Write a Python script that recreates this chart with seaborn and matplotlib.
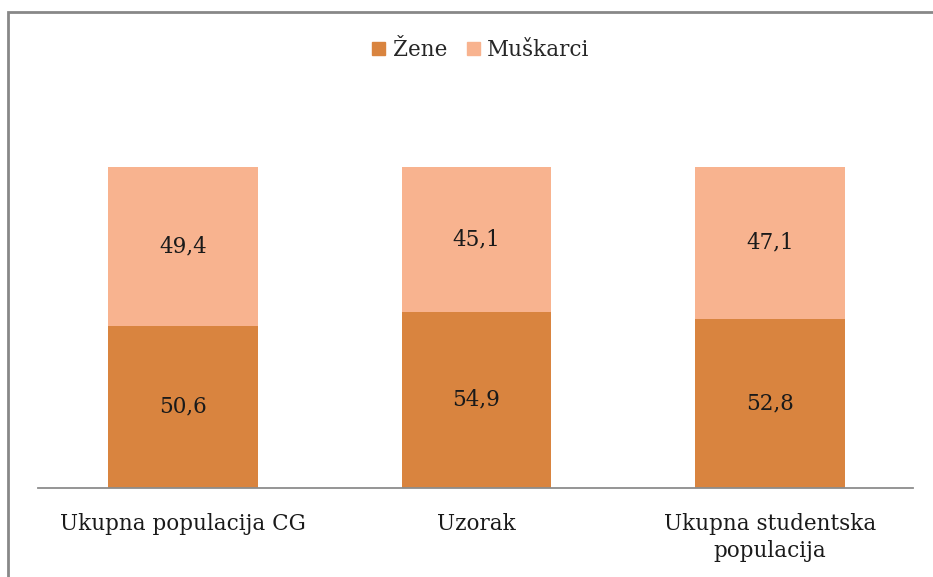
import numpy as np
import matplotlib.pyplot as plt
import seaborn as sns
from matplotlib.patches import Rectangle, Patch

categories = ["Ukupna populacija CG", "Uzorak", "Ukupna studentska\npopulacija"]
zene = [50.6, 54.9, 52.8]
muskarci = [49.4, 45.1, 47.1]
series_names = ["Žene", "Muškarci"]

dark = "#D9843F"
light = "#F8B38F"
fs = 15.5

sns.set_theme(style="white")
plt.rcParams["font.family"] = ["DejaVu Serif"]

fig = plt.figure(figsize=(9.33, 5.77), dpi=100)
ax = fig.add_axes([38 / 933, 1 - 488 / 577, 875 / 933, 321 / 577])

totals = np.array(zene) + np.array(muskarci)
sns.barplot(x=categories, y=totals, color=light, width=0.51, saturation=1,
            linewidth=0, ax=ax)
sns.barplot(x=categories, y=zene, color=dark, width=0.51, saturation=1,
            linewidth=0, ax=ax)

ax.set_ylim(0, 100)
ax.set_xlim(-0.494, 2.487)

# value labels
dark_bars = ax.containers[1]
ax.bar_label(dark_bars, labels=[f"{v:.1f}".replace(".", ",") for v in zene],
             label_type="center", fontsize=fs, color="#1a1a1a")
for i, (z, m) in enumerate(zip(zene, muskarci)):
    ax.text(i, z + m / 2, f"{m:.1f}".replace(".", ","), ha="center", va="center",
            fontsize=fs, color="#1a1a1a")

sns.despine(ax=ax, left=True, top=True, right=True)
ax.spines["bottom"].set_color("#8C8C8C")
ax.spines["bottom"].set_linewidth(1.3)
ax.set_yticks([])
ax.tick_params(axis="x", length=0, pad=18, labelsize=fs, labelcolor="#1a1a1a")
for lbl in ax.get_xticklabels():
    lbl.set_linespacing(1.3)
ax.set_xlabel("")
ax.set_ylabel("")

handles = [Patch(color=dark), Patch(color=light)]
fig.legend(handles, series_names, loc="center", bbox_to_anchor=(481 / 933, 1 - 50 / 577),
           ncol=2, frameon=False, fontsize=fs, handlelength=0.6, handleheight=0.6,
           handletextpad=0.35, columnspacing=0.9)

# chart border
fig.patches.append(Rectangle((8 / 933, -0.1), 1.2, 1 - 12 / 577 + 0.1,
                             transform=fig.transFigure, fill=False,
                             edgecolor="#888888", linewidth=2))

fig.savefig("out.png", dpi=100)
